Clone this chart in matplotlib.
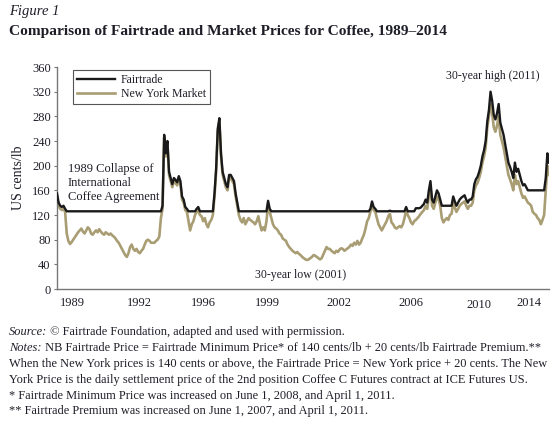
import numpy as np
import matplotlib
matplotlib.use('Agg')
import matplotlib.pyplot as plt
import matplotlib.transforms as mtransforms

# New York market price, monthly, cents/lb (Jan 1989 .. Apr 2014)
ny_price = [
    150, 135, 130, 128, 130, 125, 90, 78, 73, 76, 80, 84,          # 1989
    88, 92, 95, 98, 93, 90, 95, 100, 97, 90, 88, 92,               # 1990
    95, 92, 97, 93, 90, 88, 92, 90, 88, 90, 87, 85,                # 1991
    82, 78, 75, 70, 65, 60, 55, 52, 58, 68, 72, 65,                # 1992
    62, 65, 60, 58, 62, 65, 72, 78, 80, 78, 75, 75,                # 1993
    75, 78, 80, 85, 115, 130, 245, 215, 235, 185, 175, 165,        # 1994
    175, 172, 168, 178, 170, 145, 140, 128, 125, 110, 95, 105,     # 1995
    110, 120, 125, 128, 120, 118, 110, 115, 105, 100, 108, 112,    # 1996
    120, 150, 190, 255, 272, 215, 185, 175, 165, 160, 180, 180,    # 1997
    175, 170, 150, 135, 120, 112, 108, 115, 105, 110, 115, 112,    # 1998
    110, 108, 105, 110, 118, 105, 95, 100, 95, 110, 138, 125,      # 1999
    115, 105, 100, 98, 95, 90, 88, 82, 80, 78, 72, 68,             # 2000
    65, 62, 60, 58, 60, 57, 55, 52, 50, 48, 47, 48,                # 2001
    50, 52, 55, 54, 52, 50, 48, 50, 56, 62, 68, 65,                # 2002
    65, 62, 60, 58, 62, 60, 64, 66, 65, 62, 64, 66,                # 2003
    68, 72, 70, 75, 72, 78, 72, 75, 82, 88, 98, 110,               # 2004
    115, 125, 137, 128, 125, 115, 105, 100, 95, 100, 105, 110,     # 2005
    118, 122, 108, 105, 100, 98, 100, 102, 100, 105, 115, 128,     # 2006
    120, 115, 108, 105, 110, 112, 115, 118, 122, 125, 128, 135,    # 2007
    130, 150, 165, 135, 130, 140, 150, 145, 135, 115, 108, 112,    # 2008
    115, 112, 120, 122, 140, 132, 125, 130, 135, 138, 140, 142,    # 2009
    135, 130, 135, 135, 140, 160, 168, 172, 180, 190, 205, 215,    # 2010
    230, 262, 280, 300, 285, 262, 255, 265, 280, 250, 240, 230,    # 2011
    215, 200, 185, 178, 170, 160, 185, 170, 175, 165, 155, 148,    # 2012
    150, 145, 140, 138, 135, 125, 122, 120, 115, 112, 105, 112,    # 2013
    120, 160, 200, 185,                                            # 2014
]

# Fairtrade rules from the notes (change dates as decimal years)
min_price_dates = [1989.0, 2008 + 5 / 12, 2011 + 3 / 12]
min_price_vals = [121, 125, 140]
premium_dates = [1989.0, 2007 + 5 / 12, 2011 + 3 / 12]
premium_vals = [5, 10, 20]

tick_pos = [1989.77, 1993.23, 1996.49, 1999.82, 2003.46, 2007.15, 2010.67, 2013.2]
tick_labels = ['1989', '1992', '1996', '1999', '2002', '2006', '2010', '2014']
y_ticks = list(range(0, 361, 40))

ny = np.array(ny_price, dtype=float)
t = 1989 + np.arange(len(ny)) / 12.0


def step_lookup(dates, vals, tt):
    idx = np.searchsorted(dates, tt, side='right') - 1
    return np.array(vals)[idx]


fair = np.maximum(step_lookup(min_price_dates, min_price_vals, t), ny) + \
    step_lookup(premium_dates, premium_vals, t)

plt.rcParams['font.family'] = ['Liberation Serif', 'DejaVu Serif']
txt_col = '#1e1e28'
tan = '#a99d74'

fig = plt.figure(figsize=(5.59, 4.21), dpi=100)
ax = fig.add_axes([57 / 559, 1 - 289 / 421, 492 / 559, 222 / 421])

ax.plot(t, ny, color=tan, lw=1.9, label='New York Market', zorder=2)
ax.plot(t, fair, color='#1a1a1a', lw=1.7, label='Fairtrade', zorder=3)

ax.set_xlim(1989.0, 2014.25)
ax.set_ylim(0, 360)
ax.set_yticks(y_ticks)
ax.set_xticks(tick_pos)
ax.set_xticklabels(tick_labels)
ax.tick_params(axis='x', length=0, pad=6, labelsize=9, labelcolor=txt_col)
ax.tick_params(axis='y', length=2.5, width=0.8, pad=2, labelsize=9,
               labelcolor=txt_col, color='#777777')
# the 2010 label sits a little lower in the original
lbl = ax.get_xticklabels()[6]
lbl.set_transform(lbl.get_transform() +
                  mtransforms.ScaledTranslation(0, -1.5 / 72, fig.dpi_scale_trans))
for s in ('top', 'right'):
    ax.spines[s].set_visible(False)
for s in ('left', 'bottom'):
    ax.spines[s].set_color('#777777')
    ax.spines[s].set_linewidth(1.0)

ax.set_ylabel('US cents/lb', fontsize=10, color=txt_col, labelpad=5)

handles, labels = ax.get_legend_handles_labels()
leg = ax.legend(handles[::-1], labels[::-1], loc='upper left',
                bbox_to_anchor=(0.0325, 0.985), borderaxespad=0,
                fontsize=8.5, handlelength=3.2, handletextpad=0.5,
                labelspacing=0.15, borderpad=0.35, fancybox=False,
                framealpha=1, edgecolor='#555555')
leg.get_frame().set_linewidth(0.8)
for tx in leg.get_texts():
    tx.set_color(txt_col)

ax.text(1989.55, 172, '1989 Collapse of\nInternational\nCoffee Agreement',
        fontsize=9, color=txt_col, va='center', linespacing=1.25)
ax.text(2001.5, 22, '30-year low (2001)', fontsize=8.5, color=txt_col,
        ha='center', va='center')
ax.text(2011.35, 345, '30-year high (2011)', fontsize=8.5, color=txt_col,
        ha='center', va='center')

fig.text(9 / 559, 1 - 12 / 421, 'Figure 1', fontsize=10.5, style='italic',
         color=txt_col, va='center')
fig.text(9 / 559, 1 - 31 / 421,
         'Comparison of Fairtrade and Market Prices for Coffee, 1989–2014',
         fontsize=11.1, fontweight='bold', color=txt_col, va='center')

renderer = fig.canvas.get_renderer()


def note_line(y_px, prefix, rest, size=8.95):
    x = 9 / 559
    y = 1 - y_px / 421
    if prefix:
        p = fig.text(x, y, prefix, fontsize=size, style='italic',
                     color=txt_col, va='center')
        bb = p.get_window_extent(renderer)
        x = bb.x1 / fig.bbox.width
    fig.text(x, y, rest, fontsize=size, color=txt_col, va='center')


note_line(332, 'Source:', ' © Fairtrade Foundation, adapted and used with permission.')
note_line(348, 'Notes:', ' NB Fairtrade Price = Fairtrade Minimum Price* of 140 cents/lb '
          '+ 20 cents/lb Fairtrade Premium.**')
note_line(364, '', 'When the New York prices is 140 cents or above, the Fairtrade '
          'Price = New York price + 20 cents. The New')
note_line(380, '', 'York Price is the daily settlement price of the 2nd position '
          'Coffee C Futures contract at ICE Futures US.')
note_line(396, '', '* Fairtrade Minimum Price was increased on June 1, 2008, and April 1, 2011.')
note_line(411, '', '** Fairtrade Premium was increased on June 1, 2007, and April 1, 2011.')

fig.savefig('out.png', dpi=100)
